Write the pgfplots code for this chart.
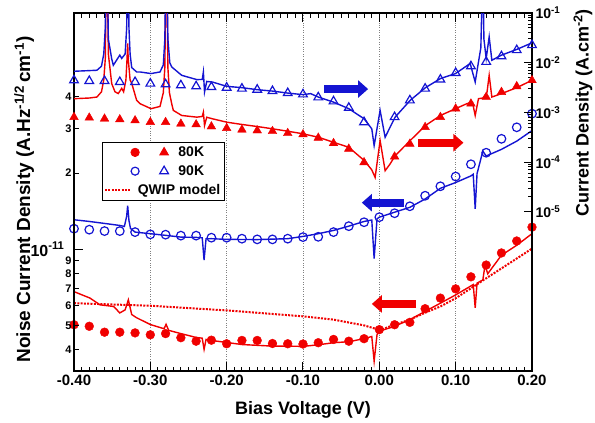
\documentclass[border=0pt]{standalone}
\usepackage{fontspec}
\setmainfont{Liberation Sans}
\usepackage{pgfplots}
\pgfplotsset{compat=1.18}
\usetikzlibrary{arrows.meta}
\definecolor{myred}{RGB}{240,0,0}
\definecolor{myblue}{RGB}{20,20,210}
\newcommand{\lbl}{\bfseries\fontsize{18}{20}\selectfont}
\newcommand{\tkl}{\bfseries\fontsize{15}{17}\selectfont}
\pgfplotsset{
  common/.style={at={(74pt,52pt)}, anchor=south west, width=458pt, height=358pt,
    scale only axis, xmin=-0.4, xmax=0.2},
}
\begin{document}
\begin{tikzpicture}
\path[use as bounding box] (0,0) rectangle (595pt,423pt);
% ---------------- main axis: box, x ticks, noise data (left scale)
\begin{axis}[common,
  ymode=log, ymin=3.30e-12, ymax=8.59e-11,
  axis line style={line width=1.3pt},
  xtick={-0.4,-0.3,-0.2,-0.1,0,0.1,0.2},
  xticklabels={-0.40,-0.30,-0.20,-0.10,0.00,0.10,0.20},
  minor x tick num=9, xtick pos=both,
  ytick=\empty,
  major tick length=9pt, minor tick length=4.5pt,
  tick style={line width=1pt, black},
  xticklabel style={font=\tkl},
  xmajorgrids, major grid style={dotted, gray, line width=0.7pt},
  xlabel={Bias Voltage (V)},
  xlabel style={font=\lbl, at={(axis description cs:0.5,-0.108)}, anchor=center},
  ylabel={Noise Current Density (A.Hz\textsuperscript{-1/2}\,cm\textsuperscript{-1})},
  ylabel style={font=\bfseries\fontsize{19}{21}\selectfont, at={(axis description cs:-0.109,0.479)}, anchor=center},
  legend style={at={(axis description cs:0.0605,0.6388)}, anchor=north west,
    draw=black, line width=0.8pt, fill=white, font=\bfseries\fontsize{14}{16}\selectfont,
    inner sep=2pt, row sep=3.5pt},
  legend cell align=left,
]
\addlegendimage{legend image code/.code={
  \draw[myred,fill=myred] plot[mark=*, mark size=4.2pt] coordinates {(0pt,0pt)};
  \draw[myred,fill=myred] plot[mark=triangle*, mark size=5pt] coordinates {(29pt,0pt)};}}
\addlegendimage{legend image code/.code={
  \draw[myblue,line width=1.2pt] plot[mark=o, mark size=4pt] coordinates {(0pt,0pt)};
  \draw[myblue,line width=1.2pt] plot[mark=triangle, mark size=5pt] coordinates {(29pt,0pt)};}}
\addlegendimage{legend image code/.code={
  \draw[myred,line width=2pt,dash pattern=on 2pt off 1.3pt] (-30pt,0pt) -- (-5pt,0pt);}}
\legend{\hspace*{8pt}80K,\hspace*{8pt}90K,\hspace*{-32.6pt}QWIP model}

% QWIP model (dotted)
\addplot[myred, line width=2pt, dash pattern=on 2pt off 1.3pt] coordinates {
(-0.40,0.612e-11) (-0.30,0.598e-11) (-0.20,0.573e-11) (-0.10,0.543e-11) (-0.06,0.527e-11)
(-0.02,0.500e-11) (-0.005,0.485e-11) (0.00,0.478e-11) (0.02,0.503e-11) (0.04,0.527e-11)
(0.06,0.561e-11) (0.08,0.594e-11) (0.10,0.640e-11) (0.12,0.701e-11) (0.14,0.768e-11)
(0.16,0.840e-11) (0.18,0.919e-11) (0.20,1.006e-11)};

% 80K noise, measured line
\addplot[myred, line width=1.4pt] coordinates {
(-0.40,0.680e-11) (-0.379,0.641e-11) (-0.366,0.603e-11) (-0.348,0.594e-11) (-0.340,0.560e-11)
(-0.333,0.576e-11) (-0.3288,0.631e-11) (-0.3244,0.552e-11) (-0.318,0.536e-11) (-0.30,0.504e-11)
(-0.282,0.485e-11) (-0.2794,0.505e-11) (-0.276,0.478e-11) (-0.26,0.464e-11) (-0.24,0.448e-11)
(-0.232,0.445e-11) (-0.2296,0.402e-11) (-0.227,0.440e-11) (-0.22,0.436e-11) (-0.20,0.428e-11)
(-0.18,0.420e-11) (-0.16,0.417e-11) (-0.14,0.414e-11) (-0.12,0.414e-11) (-0.10,0.413e-11)
(-0.08,0.419e-11) (-0.06,0.427e-11) (-0.04,0.431e-11) (-0.02,0.443e-11) (-0.0099,0.452e-11)
(-0.0068,0.361e-11) (-0.003,0.460e-11) (0.00,0.474e-11) (0.02,0.496e-11) (0.04,0.527e-11)
(0.06,0.568e-11) (0.08,0.612e-11) (0.10,0.660e-11) (0.12,0.716e-11) (0.123,0.725e-11)
(0.1256,0.587e-11) (0.128,0.735e-11) (0.1356,0.756e-11) (0.1385,0.866e-11) (0.142,0.800e-11)
(0.16,0.947e-11) (0.18,1.037e-11) (0.20,1.152e-11)};

% 80K noise markers
\addplot[only marks, mark=*, mark size=4.4pt, myred] coordinates {
(-0.40,5.03e-12) (-0.38,4.96e-12) (-0.36,4.70e-12) (-0.34,4.70e-12) (-0.32,4.67e-12)
(-0.30,4.59e-12) (-0.28,4.64e-12) (-0.26,4.47e-12) (-0.24,4.33e-12) (-0.22,4.37e-12)
(-0.20,4.23e-12) (-0.18,4.36e-12) (-0.16,4.36e-12) (-0.14,4.24e-12) (-0.12,4.23e-12)
(-0.10,4.22e-12) (-0.08,4.27e-12) (-0.06,4.40e-12) (-0.04,4.33e-12) (-0.02,4.43e-12)
(0.00,4.81e-12) (0.02,5.03e-12) (0.04,5.14e-12) (0.06,5.82e-12) (0.08,6.41e-12)
(0.10,6.97e-12) (0.12,7.78e-12) (0.14,8.66e-12) (0.16,9.67e-12) (0.18,1.078e-11)
(0.20,1.223e-11)};

% 90K noise, measured line
\addplot[myblue, line width=1.4pt] coordinates {
(-0.40,1.308e-11) (-0.38,1.288e-11) (-0.36,1.265e-11) (-0.34,1.242e-11) (-0.334,1.231e-11)
(-0.331,1.35e-11) (-0.3297,1.488e-11) (-0.328,1.30e-11) (-0.326,1.209e-11) (-0.32,1.169e-11)
(-0.30,1.152e-11) (-0.28,1.135e-11) (-0.26,1.117e-11) (-0.24,1.114e-11) (-0.232,1.110e-11)
(-0.2296,0.906e-11) (-0.227,1.100e-11) (-0.22,1.101e-11) (-0.20,1.094e-11) (-0.16,1.092e-11)
(-0.12,1.101e-11) (-0.10,1.124e-11) (-0.08,1.152e-11) (-0.06,1.187e-11) (-0.04,1.234e-11)
(-0.02,1.288e-11) (-0.0099,1.305e-11) (-0.0068,0.919e-11) (-0.003,1.320e-11) (0.00,1.339e-11)
(0.02,1.401e-11) (0.04,1.465e-11) (0.06,1.580e-11) (0.08,1.742e-11) (0.10,1.836e-11)
(0.12,1.950e-11) (0.123,1.980e-11) (0.1256,1.444e-11) (0.128,1.990e-11) (0.1356,2.444e-11)
(0.14,2.337e-11) (0.16,2.483e-11) (0.18,2.676e-11) (0.20,2.946e-11)};

% 90K noise markers
\addplot[only marks, mark=o, mark size=4.3pt, myblue, line width=1.2pt] coordinates {
(-0.40,1.206e-11) (-0.38,1.195e-11) (-0.36,1.180e-11) (-0.34,1.180e-11) (-0.32,1.169e-11)
(-0.30,1.145e-11) (-0.28,1.142e-11) (-0.26,1.132e-11) (-0.24,1.132e-11) (-0.22,1.111e-11)
(-0.20,1.111e-11) (-0.18,1.101e-11) (-0.16,1.094e-11) (-0.14,1.094e-11) (-0.12,1.101e-11)
(-0.10,1.117e-11) (-0.08,1.120e-11) (-0.06,1.169e-11) (-0.04,1.234e-11) (-0.02,1.279e-11)
(0.00,1.339e-11) (0.02,1.388e-11) (0.04,1.479e-11) (0.06,1.628e-11) (0.08,1.774e-11)
(0.10,1.939e-11) (0.12,2.168e-11) (0.14,2.408e-11) (0.16,2.733e-11) (0.18,3.035e-11)
(0.20,3.436e-11)};

% arrows
\draw[myblue, line width=8pt, -{Triangle[length=10pt,width=17pt]}] (axis cs:-0.0723,4.30e-11) -- (axis cs:-0.0147,4.30e-11);
\draw[myred, line width=8pt, -{Triangle[length=10pt,width=17pt]}] (axis cs:0.0513,2.638e-11) -- (axis cs:0.1102,2.638e-11);
\draw[myblue, line width=8pt, -{Triangle[length=10pt,width=17pt]}] (axis cs:0.0325,1.528e-11) -- (axis cs:-0.0229,1.528e-11);
\draw[myred, line width=8pt, -{Triangle[length=10pt,width=17pt]}] (axis cs:0.0482,0.6078e-11) -- (axis cs:-0.0098,0.6078e-11);
\end{axis}

% ---------------- left y ticks (short)
\begin{axis}[common,
  ymode=log, ymin=3.30e-12, ymax=8.59e-11,
  axis x line=none, axis y line*=left,
  axis line style={line width=1.3pt},
  ytick={4e-12,5e-12,6e-12,7e-12,8e-12,9e-12,2e-11,3e-11,4e-11},
  yticklabels={4,5,6,7,8,9,2,3,4},
  minor ytick={}, major tick length=4.5pt,
  tick style={line width=1pt, black},
  yticklabel style={font=\bfseries\fontsize{11}{12}\selectfont, xshift=1pt},
]
\end{axis}
% ---------------- left y tick 10^-11 (long)
\begin{axis}[common,
  ymode=log, ymin=3.30e-12, ymax=8.59e-11,
  axis x line=none, axis y line*=left,
  axis line style={line width=1.3pt},
  ytick={1e-11}, yticklabels={10\textsuperscript{-11}},
  minor ytick={}, major tick length=9pt,
  tick style={line width=1pt, black},
  yticklabel style={font=\bfseries\fontsize{16}{18}\selectfont, xshift=-6pt},
]
\end{axis}

% ---------------- right axis: current density
\begin{axis}[common,
  ymode=log, ymin=6.3e-9, ymax=1e-1,
  axis x line=none, axis y line*=right,
  axis line style={line width=1.3pt},
  ytick={1e-5,1e-4,1e-3,1e-2,1e-1},
  yticklabels={10\textsuperscript{-5},10\textsuperscript{-4},10\textsuperscript{-3},10\textsuperscript{-2},10\textsuperscript{-1}},
  minor ytick={2e-5,3e-5,4e-5,5e-5,6e-5,7e-5,8e-5,9e-5,
    2e-4,3e-4,4e-4,5e-4,6e-4,7e-4,8e-4,9e-4,
    2e-3,3e-3,4e-3,5e-3,6e-3,7e-3,8e-3,9e-3,
    2e-2,3e-2,4e-2,5e-2,6e-2,7e-2,8e-2,9e-2},
  major tick length=8pt, minor tick length=4pt,
  tick style={line width=1pt, black},
  yticklabel style={font=\bfseries\fontsize{14}{16}\selectfont},
  ylabel={Current Density (A.cm\textsuperscript{-2})},
  every axis y label/.style={font=\lbl, at={(axis description cs:1.1114,0.7207)}, anchor=center, rotate=90},
]
% 80K current line
\addplot[myred, line width=1.4pt] coordinates {
(-0.400,1.89e-3) (-0.380,1.95e-3) (-0.370,2.04e-3) (-0.364,2.6e-3) (-0.361,4.5e-3)
(-0.359,1.2e-2) (-0.3575,1) (-0.3565,1) (-0.355,1.5e-2) (-0.3506,3.8e-3)
(-0.3463,2.6e-3) (-0.342,2.4e-3) (-0.3375,3.05e-3) (-0.335,2.6e-3) (-0.332,4.5e-3)
(-0.3305,1.2e-2) (-0.3297,2.44e-2) (-0.329,1.2e-2) (-0.3265,4.5e-3) (-0.3244,3.86e-3)
(-0.3179,1.75e-3) (-0.3135,1.50e-3) (-0.3092,1.40e-3) (-0.2991,1.19e-3) (-0.2873,1.32e-3)
(-0.283,2.5e-3) (-0.281,8e-3) (-0.2794,1) (-0.2785,1) (-0.277,8e-3)
(-0.275,2.5e-3) (-0.272,1.5e-3) (-0.2699,1.10e-3) (-0.2589,8.69e-4) (-0.2392,8.04e-4)
(-0.232,8.3e-4) (-0.2305,1.01e-3) (-0.229,5.46e-4) (-0.2261,8.0e-4) (-0.2187,7.46e-4)
(-0.20,6.37e-4) (-0.18,5.73e-4) (-0.16,5.21e-4) (-0.14,4.69e-4) (-0.12,4.19e-4)
(-0.10,3.72e-4) (-0.08,3.17e-4) (-0.06,2.51e-4) (-0.04,1.99e-4) (-0.0195,1.07e-4)
(-0.0099,7e-5) (-0.0055,4.93e-5) (0.001,2.72e-4) (0.0076,6.73e-5) (0.0141,9.2e-5)
(0.0207,1.35e-4) (0.0404,2.72e-4) (0.0604,5.46e-4) (0.0801,8.69e-4) (0.0998,1.19e-3)
(0.1147,1.50e-3) (0.122,1.6e-3) (0.1256,8.69e-4) (0.1299,1.89e-3) (0.1356,1.95e-3)
(0.141,2.5e-3) (0.1439,5.58e-3) (0.1474,2.04e-3) (0.16,2.39e-3) (0.18,3.15e-3)
(0.20,4.43e-3)};
% 80K current markers
\addplot[only marks, mark=triangle*, mark size=5pt, myred] coordinates {
(-0.40,8.04e-4) (-0.38,7.82e-4) (-0.36,7.46e-4) (-0.34,7.23e-4) (-0.32,6.89e-4)
(-0.30,6.37e-4) (-0.28,6.37e-4) (-0.26,5.91e-4) (-0.24,5.73e-4) (-0.22,5.21e-4)
(-0.20,4.82e-4) (-0.18,4.48e-4) (-0.16,4.33e-4) (-0.14,4.19e-4) (-0.12,3.82e-4)
(-0.10,3.60e-4) (-0.08,3.08e-4) (-0.06,2.40e-4) (-0.04,1.85e-4) (-0.02,9.9e-5)
(0.02,1.29e-4) (0.04,2.33e-4) (0.06,5.05e-4) (0.08,8.04e-4) (0.10,1.19e-3)
(0.12,1.50e-3) (0.14,2.04e-3) (0.16,2.57e-3) (0.18,3.35e-3) (0.20,4.43e-3)};
% 90K current line
\addplot[myblue, line width=1.4pt] coordinates {
(-0.40,6.73e-3) (-0.37,7.05e-3) (-0.364,8.5e-3) (-0.361,1.5e-2) (-0.359,5e-2)
(-0.3575,1) (-0.3565,1) (-0.355,3e-2) (-0.3506,1.2e-2) (-0.3485,8.89e-3)
(-0.340,1.42e-2) (-0.3375,1.22e-2) (-0.333,1.5e-2) (-0.331,5e-2) (-0.3297,1)
(-0.329,1) (-0.328,5e-2) (-0.3265,1.5e-2) (-0.3244,8e-3) (-0.3179,6.52e-3)
(-0.3135,6.52e-3) (-0.2991,6.05e-3) (-0.2873,6.52e-3) (-0.283,9e-3) (-0.281,3e-2)
(-0.2795,1) (-0.2785,1) (-0.277,3e-2) (-0.2745,1e-2) (-0.2720,8.22e-3)
(-0.2589,5.58e-3) (-0.2392,4.58e-3) (-0.232,4.6e-3) (-0.2305,6.52e-3) (-0.229,2.57e-3)
(-0.2261,4.2e-3) (-0.2187,4.09e-3) (-0.20,3.35e-3) (-0.18,3.15e-3) (-0.16,2.87e-3)
(-0.14,2.69e-3) (-0.12,2.45e-3) (-0.10,2.28e-3) (-0.09,2.39e-3) (-0.08,2.04e-3)
(-0.06,1.61e-3) (-0.04,1.19e-3) (-0.02,7.46e-4) (-0.0099,4.69e-4) (-0.0068,2.15e-4)
(0.001,1.10e-3) (0.0076,3.17e-4) (0.0141,5.05e-4) (0.0207,8.04e-4) (0.0404,1.75e-3)
(0.0604,3.15e-3) (0.0801,4.80e-3) (0.0998,6.05e-3) (0.119,9.64e-3) (0.1256,4.09e-3)
(0.1299,1.04e-2) (0.133,2e-2) (0.1356,1) (0.137,3e-2) (0.14,1.22e-2)
(0.1439,3.32e-2) (0.1474,1.12e-2) (0.16,1.42e-2) (0.18,1.85e-2) (0.20,2.51e-2)};
% 90K current markers
\addplot[only marks, mark=triangle, mark size=5pt, myblue, line width=1.2pt] coordinates {
(-0.40,4.43e-3) (-0.38,4.29e-3) (-0.36,4.29e-3) (-0.34,4.09e-3) (-0.32,4.09e-3)
(-0.30,3.80e-3) (-0.28,3.68e-3) (-0.26,3.51e-3) (-0.24,3.35e-3) (-0.22,3.24e-3)
(-0.20,3.15e-3) (-0.18,3.01e-3) (-0.16,2.87e-3) (-0.14,2.69e-3) (-0.12,2.45e-3)
(-0.10,2.31e-3) (-0.08,2.01e-3) (-0.06,1.67e-3) (-0.04,1.24e-3) (-0.02,6.37e-4)
(0.02,8.04e-4) (0.04,1.75e-3) (0.06,3.01e-3) (0.08,4.58e-3) (0.10,6.22e-3)
(0.12,8.49e-3) (0.14,1.04e-2) (0.16,1.35e-2) (0.18,1.79e-2) (0.20,2.26e-2)};
\end{axis}
\end{tikzpicture}
\end{document}
